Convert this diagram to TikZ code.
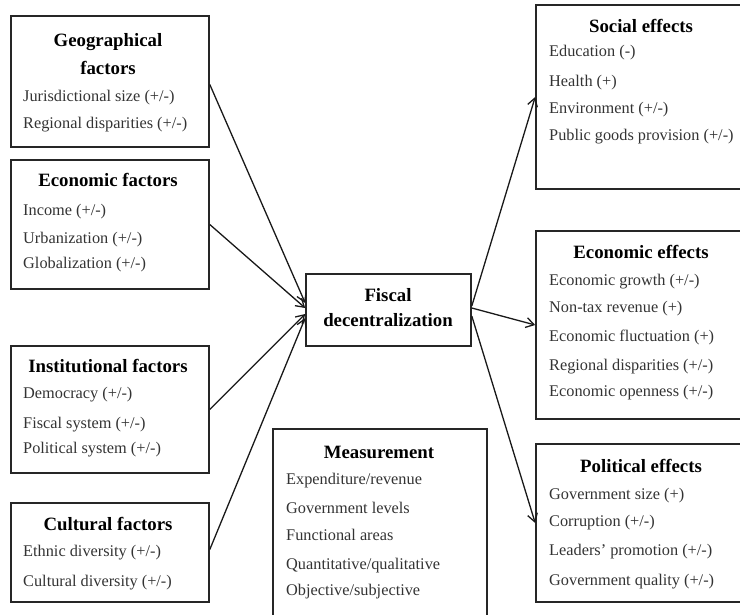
\documentclass[tikz,border=0pt]{standalone}
\usepackage{fontspec}
\setmainfont{Liberation Serif}
\usetikzlibrary{arrows.meta,calc}
\begin{document}
\begin{tikzpicture}[x=1pt,y=-1pt,
  box/.style={draw=black!85, line width=1.6pt, inner sep=0pt},
  head/.style={font=\fontsize{18.8}{22}\selectfont\bfseries, inner sep=0pt, text height=13pt, text depth=4pt},
  item/.style={font=\fontsize{16.3}{19}\selectfont, text=black!80, inner sep=0pt, anchor=west, text height=11pt, text depth=4pt},
  arr/.style={line width=1.3pt, draw=black!90, -{Straight Barb[length=8pt,width=10pt,line width=1.3pt]}}]
\useasboundingbox (0,0) rectangle (740,614);

% left boxes
\node[box, minimum width=198pt, minimum height=131pt] (geo)  at (110,81.5) {};
\node[box, minimum width=198pt, minimum height=129pt] (ecof) at (110,224.5) {};
\node[box, minimum width=198pt, minimum height=127pt] (inst) at (110,409.5) {};
\node[box, minimum width=198pt, minimum height=99pt]  (cult) at (110,552.5) {};

% centre
\node[box, minimum width=165pt, minimum height=72pt] (fd) at (388.5,310) {};
\node[box, minimum width=214pt, minimum height=195pt] (meas) at (380,526.5) {};

% right boxes
\node[box, minimum width=208pt, minimum height=184pt] (soc)  at (640,97) {};
\node[box, minimum width=208pt, minimum height=188pt] (ecoe) at (640,325) {};
\node[box, minimum width=208pt, minimum height=158pt] (pol)  at (640,523) {};

% geographical
\node[head] (geoh1) at (108,42) {Geographical};
\node[head] (geoh2) at (108,70) {factors};
\node[item] (geo1) at (23,98) {Jurisdictional size (+/-)};
\node[item] (geo2) at (23,125) {Regional disparities (+/-)};

% economic factors
\node[head] (ecofh) at (108,182) {Economic factors};
\node[item] (ecof1) at (23,212) {Income (+/-)};
\node[item] (ecof2) at (23,240) {Urbanization (+/-)};
\node[item] (ecof3) at (23,265) {Globalization (+/-)};

% institutional
\node[head] (insth) at (108,368) {Institutional factors};
\node[item] (inst1) at (23,395) {Democracy (+/-)};
\node[item] (inst2) at (23,425) {Fiscal system (+/-)};
\node[item] (inst3) at (23,450) {Political system (+/-)};

% cultural
\node[head] (culth) at (108,526) {Cultural factors};
\node[item] (cult1) at (23,553) {Ethnic diversity (+/-)};
\node[item] (cult2) at (23,583) {Cultural diversity (+/-)};

% fiscal decentralization
\node[head] (fdh1) at (388,297) {Fiscal};
\node[head] (fdh2) at (388,322) {decentralization};

% measurement
\node[head] (meash) at (379,454) {Measurement};
\node[item] (meas1) at (286,481) {Expenditure/revenue};
\node[item] (meas2) at (286,510) {Government levels};
\node[item] (meas3) at (286,537) {Functional areas};
\node[item] (meas4) at (286,566) {Quantitative/qualitative};
\node[item] (meas5) at (286,592) {Objective/subjective};

% social
\node[head] (soch) at (641,28) {Social effects};
\node[item] (soc1) at (549,53) {Education (-)};
\node[item] (soc2) at (549,83) {Health (+)};
\node[item] (soc3) at (549,110) {Environment (+/-)};
\node[item] (soc4) at (549,137) {Public goods provision (+/-)};

% economic effects
\node[head] (ecoeh) at (641,254) {Economic effects};
\node[item] (ecoe1) at (549,282) {Economic growth (+/-)};
\node[item] (ecoe2) at (549,309) {Non-tax revenue (+)};
\node[item] (ecoe3) at (549,338) {Economic fluctuation (+)};
\node[item] (ecoe4) at (549,367) {Regional disparities (+/-)};
\node[item] (ecoe5) at (549,393) {Economic openness (+/-)};

% political
\node[head] (polh) at (641,468) {Political effects};
\node[item] (pol1) at (549,496) {Government size (+)};
\node[item] (pol2) at (549,523) {Corruption (+/-)};
\node[item] (pol3) at (549,552) {Leaders' promotion (+/-)};
\node[item] (pol4) at (549,582) {Government quality (+/-)};

% arrows in
\draw[arr] ($(geo.east)+(0,3)$) -- ($(fd.west)+(0,-7)$);
\draw[arr] (ecof.east) -- ($(fd.west)+(0,-2)$);
\draw[arr] (inst.east) -- ($(fd.west)+(0,4)$);
\draw[arr] ($(cult.east)+(0,-3)$) -- ($(fd.west)+(0,8)$);

% arrows out
\draw[arr] ($(fd.east)+(0,-4)$) -- (soc.west);
\draw[arr] ($(fd.east)+(0,-2)$) -- (ecoe.west);
\draw[arr] ($(fd.east)+(0,6)$) -- (pol.west);
\end{tikzpicture}
\end{document}
